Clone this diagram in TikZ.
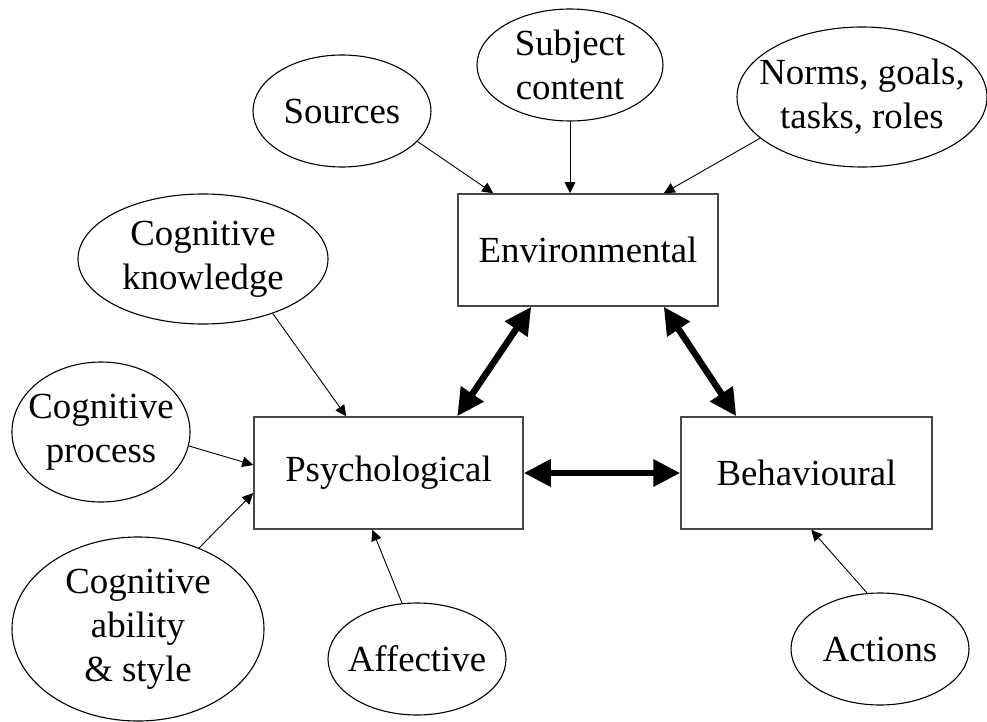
\documentclass[tikz,border=0pt]{standalone}
\usepackage{fontspec}
\setmainfont{Liberation Serif}
\usetikzlibrary{shapes.geometric,arrows.meta}
\begin{document}
\begin{tikzpicture}[x=1pt,y=-1pt,
  every node/.style={font=\fontsize{36.8}{44}\selectfont, align=center, inner sep=0pt},
  oval/.style={ellipse, draw, line width=1.1pt},
  box/.style={rectangle, draw=black!72, line width=1.5pt},
  thinarrow/.style={-{Triangle[length=11pt,width=10.5pt]}, line width=0.9pt},
  thickarrow/.style={{Triangle[length=27pt,width=26pt]}-{Triangle[length=27pt,width=26pt]}, line width=6.5pt}]
\useasboundingbox (0,0) rectangle (987,722);
% boxes
\node[box, minimum width=260pt, minimum height=112pt] (env) at (588,250) {Environmental};
\node[box, minimum width=269pt, minimum height=112pt] (psy) at (388.5,473) {Psychological};
\node[box, minimum width=251pt, minimum height=112pt] (beh) at (806.5,473) {Behavioural};
% ellipses (fixed size) and their texts
\node[oval, minimum width=178pt, minimum height=112pt] (src) at (342,111) {};
\node (srct) at (src) {Sources};
\node[oval, minimum width=186pt, minimum height=112pt] (subj) at (570,65) {};
\node (subjt) at (subj) {Subject\\content};
\node[oval, minimum width=250pt, minimum height=140pt] (norm) at (862,97) {};
\node (normt) at (norm) {Norms, goals,\\tasks, roles};
\node[oval, minimum width=250pt, minimum height=130pt] (know) at (203,259) {};
\node (knowt) at (know) {Cognitive\\knowledge};
\node[oval, minimum width=178pt, minimum height=140pt] (proc) at (101,432) {};
\node (proct) at (proc) {Cognitive\\process};
\node[oval, minimum width=252pt, minimum height=184pt] (abil) at (138,629) {};
\node (abilt) at (abil) {Cognitive\\ability\\\& style};
\node[oval, minimum width=178pt, minimum height=112pt] (aff) at (417,659) {};
\node (afft) at (aff) {Affective};
\node[oval, minimum width=178pt, minimum height=112pt] (act) at (880,649) {};
\node (actt) at (act) {Actions};
% thin arrows
\draw[thinarrow] (src.338) -- ([xshift=36pt]env.north west);
\draw[thinarrow] (subj.south) -- ([xshift=-18pt]env.north);
\draw[thinarrow] (norm.202.5) -- ([xshift=-55pt]env.north east);
\draw[thinarrow] (know.322.4) -- ([xshift=93pt]psy.north west);
\draw[thinarrow] (proc.351) -- ([yshift=8pt]psy.west);
\draw[thinarrow] (abil.53.5) -- ([yshift=-20pt]psy.west);
\draw[thinarrow] (aff.105) -- ([xshift=119pt]psy.south west);
\draw[thinarrow] (act.103) -- ([xshift=131pt]beh.south west);
% thick arrows
\draw[thickarrow] ([xshift=204pt]psy.north west) -- ([xshift=74pt]env.south west);
\draw[thickarrow] ([xshift=-55pt]env.south east) -- ([xshift=56pt]beh.north west);
\draw[thickarrow] (psy.east) -- (beh.west);
\end{tikzpicture}
\end{document}
